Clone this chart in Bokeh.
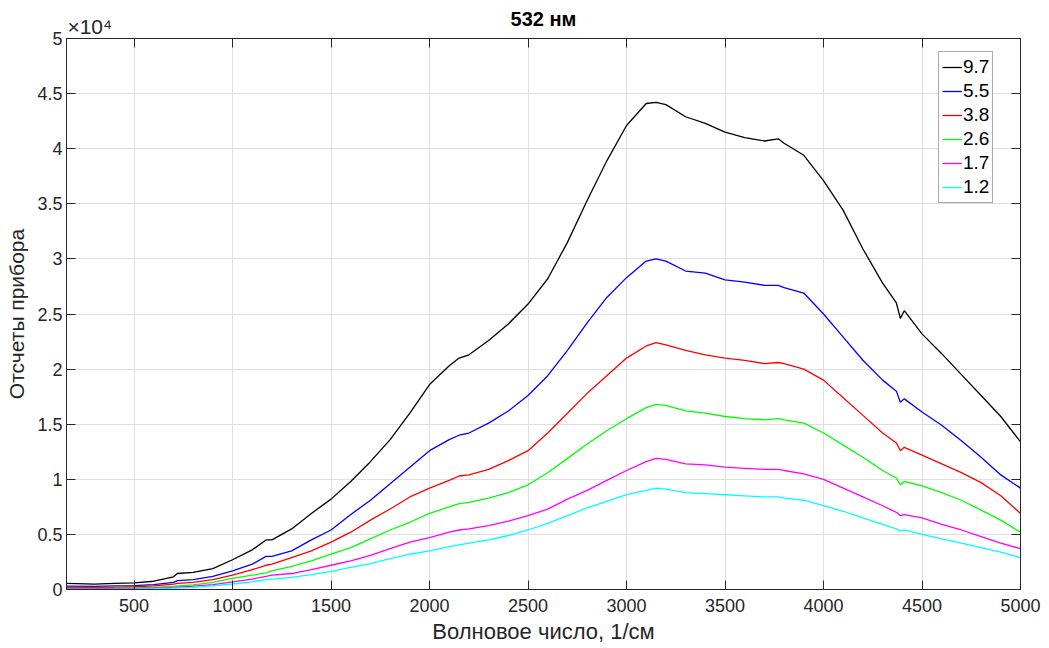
from bokeh.plotting import figure
from bokeh.models import Range1d, FixedTicker, LinearAxis, Legend, LegendItem
from bokeh.embed import file_html
from bokeh.resources import INLINE

title_text = "532 нм"
x_label = "Волновое число, 1/см"
y_label = "Отсчеты прибора"
exp_label = "×10⁴"

wavenumber = [157, 300, 400, 500, 600, 700, 720, 800, 900, 1000,
              1100, 1170, 1200, 1300, 1400, 1500, 1600, 1700, 1800, 1900,
              2000, 2100, 2150, 2200, 2300, 2400, 2500, 2600, 2700, 2800,
              2900, 3000, 3100, 3150, 3200, 3300, 3400, 3500, 3600, 3700,
              3770, 3800, 3900, 4000, 4100, 4200, 4300, 4370, 4390, 4410,
              4500, 4600, 4700, 4800, 4900, 5000]

s_9_7 = [550, 480, 550, 600, 750, 1150, 1450, 1550, 1900, 2700,
         3600, 4500, 4500, 5500, 6900, 8200, 9800, 11600, 13600, 16000,
         18600, 20300, 21000, 21300, 22600, 24100, 25900, 28200, 31500, 35300,
         38900, 42100, 44100, 44200, 44000, 42900, 42300, 41500, 41000, 40700,
         40900, 40500, 39400, 37100, 34400, 30900, 27800, 26000, 24600, 25300,
         23200, 21400, 19500, 17600, 15700, 13400]
s_5_5 = [300, 280, 320, 350, 450, 650, 800, 900, 1200, 1700,
         2300, 3000, 3000, 3500, 4500, 5400, 6800, 8100, 9600, 11100,
         12600, 13600, 14000, 14200, 15100, 16200, 17600, 19400, 21700, 24200,
         26500, 28300, 29800, 30000, 29800, 28900, 28700, 28100, 27900, 27600,
         27600, 27400, 26900, 25000, 22900, 20800, 19000, 18000, 17000, 17300,
         16100, 14900, 13500, 12000, 10400, 9200]
s_3_8 = [200, 180, 200, 250, 320, 480, 550, 650, 900, 1300,
         1800, 2200, 2300, 2900, 3500, 4300, 5200, 6300, 7300, 8400,
         9200, 9900, 10300, 10400, 10900, 11700, 12600, 14200, 16000, 17800,
         19400, 21000, 22100, 22400, 22200, 21700, 21300, 21000, 20800, 20500,
         20600, 20500, 20000, 19000, 17400, 15800, 14200, 13300, 12600, 12900,
         12200, 11400, 10600, 9700, 8500, 6900]
s_2_6 = [100, 100, 120, 150, 200, 300, 330, 420, 650, 1000,
         1300, 1500, 1700, 2100, 2600, 3200, 3800, 4600, 5400, 6100,
         6900, 7500, 7800, 7900, 8300, 8800, 9500, 10600, 11900, 13200,
         14400, 15500, 16500, 16800, 16700, 16200, 16000, 15700, 15500, 15400,
         15500, 15400, 15100, 14200, 13100, 12000, 10800, 10100, 9500, 9800,
         9400, 8800, 8100, 7200, 6300, 5200]
s_1_7 = [50, 50, 60, 100, 130, 200, 220, 300, 450, 700,
         950, 1200, 1300, 1450, 1800, 2200, 2600, 3100, 3700, 4300,
         4700, 5200, 5400, 5500, 5800, 6200, 6700, 7300, 8200, 9000,
         9900, 10800, 11600, 11900, 11800, 11400, 11300, 11100, 11000, 10900,
         10900, 10800, 10500, 10000, 9200, 8400, 7600, 7000, 6700, 6800,
         6500, 5900, 5400, 4800, 4200, 3700]
s_1_2 = [20, 20, 30, 50, 80, 120, 130, 200, 320, 500,
         700, 900, 950, 1100, 1350, 1650, 2000, 2350, 2800, 3200,
         3500, 3900, 4050, 4200, 4500, 4900, 5400, 6000, 6700, 7400,
         8000, 8600, 9000, 9200, 9100, 8800, 8700, 8600, 8500, 8400,
         8400, 8300, 8100, 7600, 7100, 6500, 5900, 5500, 5300, 5400,
         5000, 4600, 4200, 3800, 3400, 2900]

series_names = ["9.7", "5.5", "3.8", "2.6", "1.7", "1.2"]
series_values = [s_9_7, s_5_5, s_3_8, s_2_6, s_1_7, s_1_2]
series_colors = ["#000000", "#0000ff", "#ff0000", "#00ff00", "#ff00ff", "#00ffff"]

x_ticks = [500, 1000, 1500, 2000, 2500, 3000, 3500, 4000, 4500, 5000]
y_ticks = [0, 5000, 10000, 15000, 20000, 25000, 30000, 35000, 40000, 45000, 50000]
y_tick_labels = ["0", "0.5", "1", "1.5", "2", "2.5", "3", "3.5", "4", "4.5", "5"]
exp_pos = [275]

FONT = "Liberation Sans"
AX = "#262626"

p = figure(width=1049, height=648, output_backend="svg", toolbar_location=None,
           x_range=Range1d(157, 5000), y_range=Range1d(0, 50000), title_location=None,
           min_border_left=66, min_border_right=29, min_border_top=38, min_border_bottom=59)

for ax in [p.xaxis[0], p.yaxis[0]]:
    ax.major_label_text_font = FONT
    ax.major_label_text_font_size = "18px"
    ax.major_label_text_color = AX
    ax.axis_label_text_font = FONT
    ax.axis_label_text_font_size = "21px"
    ax.axis_label_text_font_style = "normal"
    ax.axis_label_text_color = AX
    ax.axis_line_color = AX
    ax.major_tick_line_color = AX
    ax.major_tick_in = 9
    ax.major_tick_out = 0
    ax.minor_tick_line_color = None

p.xaxis[0].ticker = FixedTicker(ticks=x_ticks)
p.yaxis[0].ticker = FixedTicker(ticks=y_ticks)
p.yaxis[0].major_label_overrides = {t: l for t, l in zip(y_ticks, y_tick_labels)}
p.xaxis[0].axis_label = x_label
p.yaxis[0].axis_label = y_label
p.xaxis[0].major_label_standoff = 9
p.yaxis[0].major_label_standoff = 4
p.xaxis[0].axis_label_standoff = 4
p.yaxis[0].axis_label_standoff = 6
p.xaxis[0].axis_label_text_font_size = "22px"

# top axis: inward ticks at the border (minor ticks), exponent label, and the title as its label
top = LinearAxis(ticker=FixedTicker(ticks=exp_pos, minor_ticks=x_ticks),
                 major_label_overrides={exp_pos[0]: exp_label},
                 major_label_text_font=FONT, major_label_text_font_size="21px",
                 major_label_text_color=AX, major_label_standoff=1,
                 axis_line_color=AX, major_tick_in=0, major_tick_out=0,
                 minor_tick_line_color=AX, minor_tick_in=9, minor_tick_out=0,
                 axis_label=title_text, axis_label_text_font=FONT,
                 axis_label_text_font_size="20px", axis_label_text_font_style="bold",
                 axis_label_text_color="#000000", axis_label_standoff=-18)
right = LinearAxis(ticker=FixedTicker(ticks=[], minor_ticks=y_ticks),
                   axis_line_color=AX, major_tick_in=0, major_tick_out=0,
                   minor_tick_line_color=AX, minor_tick_in=9, minor_tick_out=0,
                   major_label_standoff=0)
p.add_layout(top, "above")
p.add_layout(right, "right")

p.xgrid.ticker = FixedTicker(ticks=x_ticks)
p.ygrid.ticker = FixedTicker(ticks=y_ticks)
p.grid.grid_line_color = "#dfdfdf"
p.outline_line_color = AX

items = []
for name, vals, col in zip(series_names, series_values, series_colors):
    r = p.line(wavenumber, vals, line_color=col, line_width=1.3)
    items.append(LegendItem(label=name, renderers=[r]))

legend = Legend(items=items, location=(872, 386), margin=0,
                label_text_font=FONT, label_text_font_size="19px", label_text_color="#000000",
                glyph_width=20, glyph_height=24, label_height=24, label_standoff=1, spacing=0,
                padding=3, border_line_color="#555555", border_line_width=1,
                background_fill_color="white", background_fill_alpha=1.0)
p.add_layout(legend, "center")

open("out.html", "w").write(file_html(p, INLINE))
